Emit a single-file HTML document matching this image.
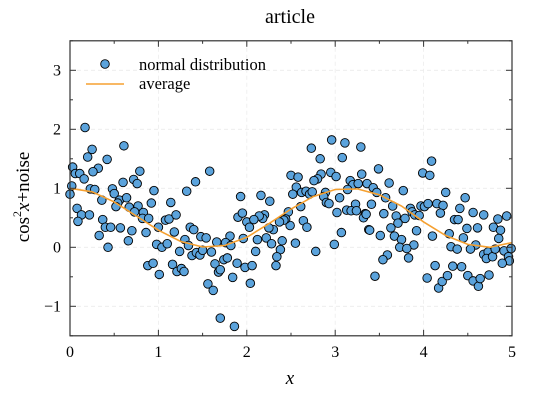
<!DOCTYPE html>
<html><head><meta charset="utf-8"><style>
html,body{margin:0;padding:0;background:#fff;}
svg{display:block;font-family:"Liberation Serif",serif;}
</style></head><body>
<svg id="chart" width="536" height="400" viewBox="0 0 536 400">
<rect x="0" y="0" width="536" height="400" fill="#fff"/>
<text x="290" y="23" font-size="20" text-anchor="middle">article</text>
<g id="grid"></g>
<g id="series"></g>
<rect x="70" y="40.8" width="442" height="295" fill="none" stroke="#333" stroke-width="1.2"/>
<g id="ticks"></g>
<text x="290" y="384" font-size="19" font-style="italic" text-anchor="middle">x</text>
<text transform="translate(29,197) rotate(-90)" font-size="19" text-anchor="middle">cos<tspan dy="-8" font-size="12">2</tspan><tspan dy="8" font-style="italic">x</tspan>+noise</text>
<g>
<circle cx="105" cy="64" r="4.3" fill="#5ba3dc" stroke="#000" stroke-width="0.9"/>
<text x="139" y="70" font-size="16.5">normal distribution</text>
<line x1="86" y1="84" x2="124" y2="84" stroke="#f5a030" stroke-width="1.6"/>
<text x="139" y="89" font-size="16.5">average</text>
</g>
</svg>
<script>
const xTicks = [0,1,2,3,4,5];
const yTicks = [-1,0,1,2,3];
const pointsX = [0.17,0.61,0.25,0.20,0.42,0.03,0.32,0.26,0.06,0.11,0.16,0.79,1.58,0.60,0.72,0.76,1.42,0.02,0.00,0.23,0.28,0.48,0.50,0.95,1.32,0.36,0.56,0.64,0.54,0.52,0.67,0.77,0.73,0.83,0.92,1.14,0.08,0.13,0.22,0.09,0.37,0.40,0.46,0.82,0.89,1.08,1.12,1.20,1.00,0.57,0.33,0.70,0.86,1.18,1.36,1.40,0.43,0.66,0.98,1.04,1.10,1.30,1.34,1.24,1.38,1.43,1.47,1.48,1.54,1.50,1.60,1.66,0.88,0.94,1.01,1.16,1.21,1.26,1.29,1.64,1.68,1.56,1.62,1.70,
2.96,3.11,3.29,2.73,2.83,3.08,2.50,2.58,2.95,3.01,2.84,2.80,2.76,3.17,3.30,3.20,3.26,3.36,3.14,2.56,2.52,2.62,2.67,2.71,2.74,2.89,2.87,3.05,2.90,2.93,3.23,3.13,3.18,3.24,3.02,3.34,3.32,3.38,3.07,2.99,2.78,2.61,2.64,2.68,2.49,2.47,2.44,2.42,2.37,2.30,2.25,2.20,2.18,2.14,2.16,2.26,1.93,1.90,1.95,2.00,2.03,2.08,2.12,2.22,2.28,2.40,2.55,1.96,1.81,1.76,1.82,2.10,2.38,2.34,2.33,1.89,1.74,1.78,1.70,1.98,2.06,1.84,2.04,1.86,
3.49,4.09,3.99,4.07,3.43,3.47,3.61,3.77,4.25,4.47,3.57,3.41,3.65,3.85,3.87,3.90,3.95,3.97,4.01,4.05,4.15,4.22,4.19,4.41,4.35,4.39,4.56,4.68,4.84,4.94,3.35,3.55,3.69,3.71,3.79,3.63,3.39,3.51,3.67,3.75,3.92,3.89,3.73,3.81,3.83,3.59,3.54,3.45,4.10,4.29,4.49,4.61,4.79,4.87,4.45,4.85,4.31,4.38,4.59,4.53,4.68,4.73,4.71,4.78,4.81,4.91,4.99,4.96,4.97,4.89,4.13,4.04,4.17,4.21,4.27,4.33,4.43,4.50,4.56,4.62,4.64,4.74];
const pointsY = [2.03,1.72,1.66,1.53,1.49,1.36,1.34,1.28,1.25,1.25,1.16,1.29,1.29,1.10,1.15,1.08,1.11,1.04,0.90,0.99,0.98,0.99,0.91,0.96,0.95,0.80,0.80,0.84,0.75,0.69,0.68,0.70,0.60,0.59,0.75,0.76,0.66,0.55,0.55,0.44,0.47,0.34,0.34,0.49,0.49,0.46,0.48,0.55,0.34,0.33,0.20,0.28,0.25,0.26,0.34,0.30,0.00,0.11,0.05,0.00,0.06,0.13,0.03,-0.07,-0.14,-0.09,-0.13,0.18,0.16,-0.05,-0.08,0.09,-0.31,-0.27,-0.46,-0.29,-0.41,-0.36,-0.41,-0.28,-0.42,-0.62,-0.73,-1.20,
1.82,1.77,1.70,1.68,1.50,1.52,1.22,1.19,1.27,1.20,1.24,1.16,1.13,1.13,1.24,1.06,1.08,1.08,0.98,1.02,0.90,0.93,0.95,0.90,0.94,0.93,0.86,0.84,0.76,0.74,0.73,0.63,0.62,0.62,0.59,0.57,0.50,0.30,0.25,0.05,-0.07,0.69,0.45,0.34,0.37,0.60,0.48,0.46,0.43,0.30,0.33,0.55,0.49,0.53,0.88,0.78,0.86,0.51,0.58,0.43,0.34,0.47,0.13,0.16,0.06,0.11,0.07,0.15,0.19,0.08,0.03,-0.07,-0.04,-0.16,-0.31,-0.27,-0.21,-0.18,-0.38,-0.34,-0.31,-0.51,-0.61,-1.34,
1.33,1.46,1.26,1.22,1.01,0.93,1.09,0.96,0.93,0.84,0.84,0.73,0.70,0.66,0.60,0.55,0.54,0.70,0.69,0.74,0.74,0.71,0.58,0.66,0.47,0.47,0.59,0.55,0.48,0.53,0.56,0.57,0.53,0.41,0.49,0.33,0.29,0.20,0.19,0.13,0.28,0.04,0.00,-0.02,-0.18,-0.13,-0.21,-0.49,0.19,0.23,0.32,0.33,0.34,0.29,0.16,0.15,0.01,-0.03,0.04,-0.03,-0.12,-0.08,-0.19,-0.16,-0.03,-0.06,-0.02,-0.16,-0.23,-0.27,-0.31,-0.52,-0.69,-0.58,-0.48,-0.32,-0.33,-0.48,-0.57,-0.66,-0.53,-0.47];
const avgX = [0,0.25,0.5,0.75,1,1.25,1.5,1.75,2,2.25,2.5,2.75,3,3.25,3.5,3.75,4,4.25,4.5,4.75,5];
const avgY = [1,0.94,0.77,0.53,0.29,0.10,0.005,0.03,0.17,0.40,0.65,0.86,0.98,0.99,0.89,0.70,0.43,0.20,0.05,0.00,0.08];

const NS='http://www.w3.org/2000/svg';
const X0=70,X1=512,Y0=335.8,Y1=40.8,xmin=0,xmax=5,ymin=-1.5,ymax=3.5;
function sx(v){return X0+(v-xmin)/(xmax-xmin)*(X1-X0);}
function sy(v){return Y0-(v-ymin)/(ymax-ymin)*(Y0-Y1);}
function mk(t,a,p){const e=document.createElementNS(NS,t);for(const k in a)e.setAttribute(k,a[k]);p.appendChild(e);return e;}
const grid=document.getElementById('grid'),ticks=document.getElementById('ticks'),series=document.getElementById('series');

xTicks.forEach(v=>{
  const x=sx(v);
  if(v>xmin&&v<xmax){const g=mk('line',{x1:x,x2:x,y1:Y1,y2:Y0,stroke:'#ececec','stroke-dasharray':'4,3','stroke-width':0.8},grid);
  
  }
  const t=mk('text',{x:x,y:357,'font-size':16,'text-anchor':'middle'},ticks);t.textContent=v;
  
  
});
yTicks.forEach(v=>{
  const y=sy(v);
  const g=mk('line',{x1:X0,x2:X1,y1:y,y2:y,stroke:'#ececec','stroke-dasharray':'4,3','stroke-width':0.8},grid);
  
  
  const t=mk('text',{x:61,y:y+5,'font-size':16,'text-anchor':'end'},ticks);t.textContent=v<0?'\u2212'+Math.abs(v):v;
  
  
});
for(let v=xmin;v<=xmax+1e-9;v+=0.5){const x=sx(v),L=(Math.abs(v-Math.round(v))<1e-9)?6:3;
  mk('line',{x1:x,x2:x,y1:Y0,y2:Y0-L,stroke:'#333'},ticks);mk('line',{x1:x,x2:x,y1:Y1,y2:Y1+L,stroke:'#333'},ticks);}
for(let v=ymin;v<=ymax+1e-9;v+=0.5){const y=sy(v),L=(Math.abs(v-Math.round(v))<1e-9)?6:3;
  mk('line',{x1:X0,x2:X0+L,y1:y,y2:y,stroke:'#333'},ticks);mk('line',{x1:X1,x2:X1-L,y1:y,y2:y,stroke:'#333'},ticks);}

const clip=mk('clipPath',{id:'pc'},series);mk('rect',{x:X0,y:Y1,width:X1-X0,height:Y0-Y1},clip);
pointsX.forEach((v,i)=>{
  const c=mk('circle',{cx:sx(v),cy:sy(pointsY[i]),r:4.3,fill:'#5ba3dc',stroke:'#000','stroke-width':0.9},series);
  
  
});
const d=avgX.map((v,i)=>(i?'L':'M')+sx(v).toFixed(1)+','+sy(avgY[i]).toFixed(1)).join(' ');
const p=mk('path',{d:d,fill:'none',stroke:'#f5a030','stroke-width':1.6,'clip-path':'url(#pc)'},series);


</script>
</body></html>
